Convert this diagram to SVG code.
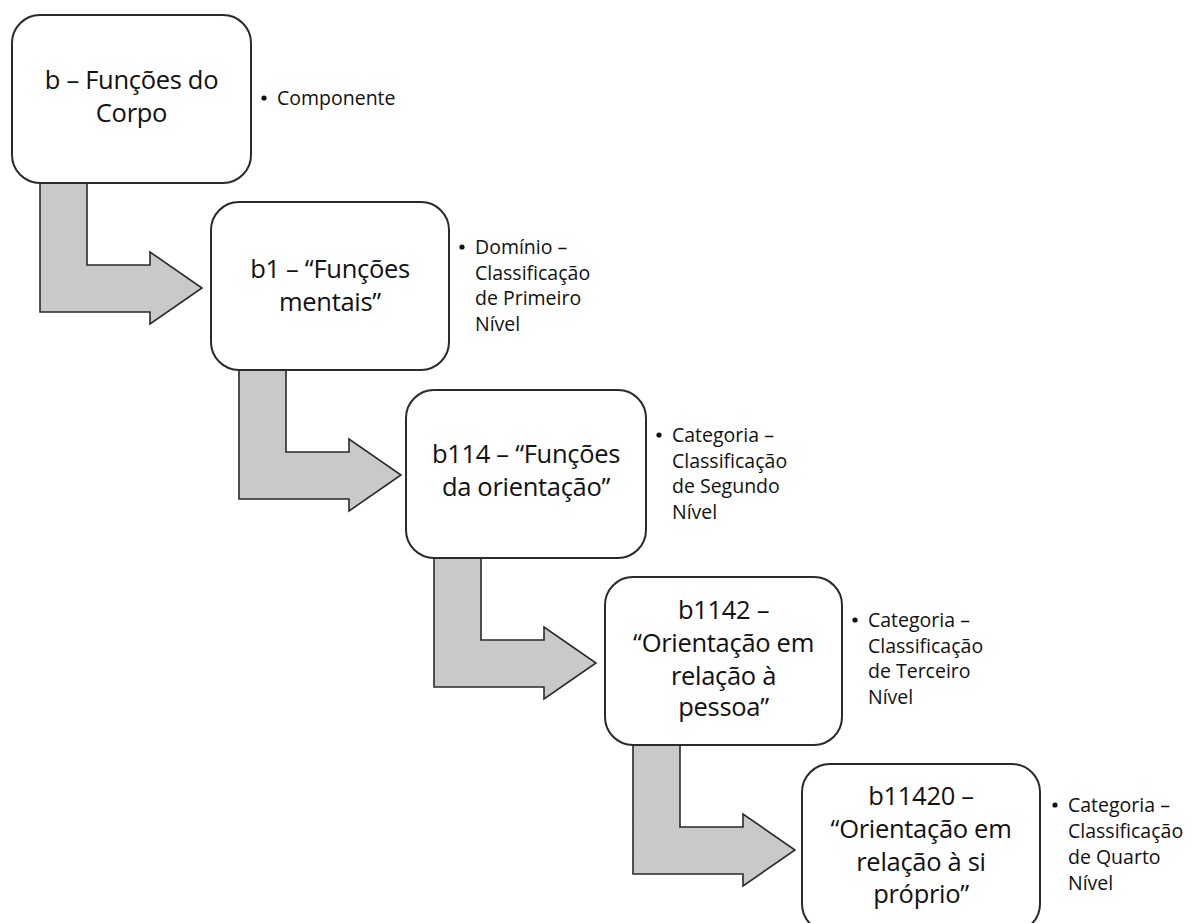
<svg xmlns="http://www.w3.org/2000/svg" width="1203" height="923" viewBox="0 0 1203 923">
<style>
.box{fill:#fff;stroke:#2a2a2a;stroke-width:2}
.arr{fill:#c9c9c9;stroke:#2a2a2a;stroke-width:1.6;stroke-linejoin:miter}
.t{font-family:"Open Sans","Noto Sans","DejaVu Sans",sans-serif;font-size:25.5px;fill:#111;text-anchor:middle;letter-spacing:-0.3px}
.b{font-family:"Open Sans","Noto Sans","DejaVu Sans",sans-serif;font-size:19.5px;fill:#111}
.d{fill:#111}
</style>
<defs>
<polygon id="bent" class="arr" points="28,168 75,168 75,250 138,250 138,237 190,273 138,309 138,297 28,297"/>
</defs>
<rect width="1203" height="923" fill="#fff"/>
<g id="connectors">
<use href="#bent" x="12" y="15"/>
<use href="#bent" x="211" y="202"/>
<use href="#bent" x="406" y="390"/>
<use href="#bent" x="605" y="577"/>
</g>
<g id="n1">
<rect class="box" x="12" y="15" width="239" height="168" rx="28"/>
<text class="t" x="131.5" y="89">b – Funções do</text>
<text class="t" x="131.5" y="122">Corpo</text>
</g>
<g id="n2">
<rect class="box" x="211" y="202" width="238" height="168" rx="28"/>
<text class="t" x="330" y="278">b1 – “Funções</text>
<text class="t" x="330" y="311">mentais”</text>
</g>
<g id="n3">
<rect class="box" x="406" y="390" width="240" height="168" rx="28"/>
<text class="t" x="526" y="463">b114 – “Funções</text>
<text class="t" x="526" y="496">da orientação”</text>
</g>
<g id="n4">
<rect class="box" x="605" y="577" width="237" height="168" rx="28"/>
<text class="t" x="723.5" y="619">b1142 –</text>
<text class="t" x="723.5" y="652">“Orientação em</text>
<text class="t" x="723.5" y="684.5">relação à</text>
<text class="t" x="723.5" y="716">pessoa”</text>
</g>
<g id="n5">
<rect class="box" x="802" y="764" width="238" height="168" rx="28"/>
<text class="t" x="921" y="805">b11420 –</text>
<text class="t" x="921" y="838">“Orientação em</text>
<text class="t" x="921" y="871">relação à si</text>
<text class="t" x="921" y="903">próprio”</text>
</g>
<g id="l1">
<circle class="d" cx="264" cy="98" r="2.6"/>
<text class="b" x="277" y="105">Componente</text>
</g>
<g id="l2">
<circle class="d" cx="462" cy="247" r="2.6"/>
<text class="b" x="475" y="254">Domínio –</text>
<text class="b" x="475" y="280">Classificação</text>
<text class="b" x="475" y="305">de Primeiro</text>
<text class="b" x="475" y="331">Nível</text>
</g>
<g id="l3">
<circle class="d" cx="659" cy="435" r="2.6"/>
<text class="b" x="672" y="442">Categoria –</text>
<text class="b" x="672" y="468">Classificação</text>
<text class="b" x="672" y="493">de Segundo</text>
<text class="b" x="672" y="519">Nível</text>
</g>
<g id="l4">
<circle class="d" cx="855" cy="620" r="2.6"/>
<text class="b" x="868" y="627">Categoria –</text>
<text class="b" x="868" y="653">Classificação</text>
<text class="b" x="868" y="678">de Terceiro</text>
<text class="b" x="868" y="704">Nível</text>
</g>
<g id="l5">
<circle class="d" cx="1055" cy="805" r="2.6"/>
<text class="b" x="1068" y="812">Categoria –</text>
<text class="b" x="1068" y="838">Classificação</text>
<text class="b" x="1068" y="864">de Quarto</text>
<text class="b" x="1068" y="890">Nível</text>
</g>
</svg>
